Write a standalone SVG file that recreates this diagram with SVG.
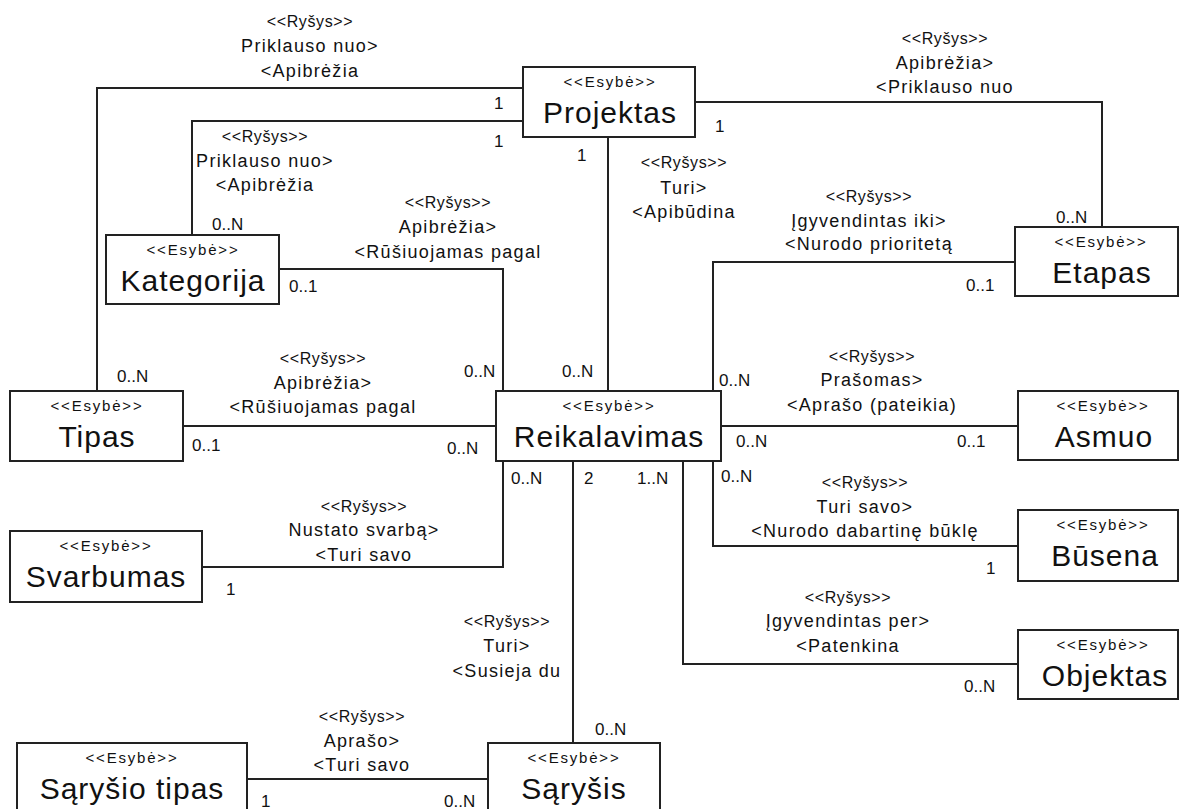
<svg xmlns="http://www.w3.org/2000/svg" width="1180" height="809" viewBox="0 0 1180 809">
  <style>
    text { font-family: "Liberation Sans", Arial, sans-serif; fill: #111; }
    .box { fill: #fff; stroke: #222; stroke-width: 2; }
    .conn { fill: none; stroke: #222; stroke-width: 2; }
    .st { font-size: 15px; letter-spacing: 1.8px; text-anchor: middle; }
    .nm { font-size: 30px; letter-spacing: 1px; text-anchor: middle; }
    .rs { font-size: 16px; letter-spacing: 0.6px; text-anchor: middle; }
    .rl { font-size: 18px; letter-spacing: 1.3px; text-anchor: middle; }
    .m { font-size: 17px; }
  </style>
  <rect width="1180" height="809" fill="#fff"/>

  <!-- associations -->
  <g id="connectors">
    <path class="conn" d="M523,88 H97 V391"/>
    <path class="conn" d="M523,121 H192 V235"/>
    <path class="conn" d="M279,269 H503 V391"/>
    <path class="conn" d="M608,137 V391"/>
    <path class="conn" d="M695,102 H1102 V227"/>
    <path class="conn" d="M713,391 V262 H1015"/>
    <path class="conn" d="M183,426 H496"/>
    <path class="conn" d="M721,426 H1018"/>
    <path class="conn" d="M713,461 V546 H1018"/>
    <path class="conn" d="M683,461 V664 H1018"/>
    <path class="conn" d="M503,461 V567 H202"/>
    <path class="conn" d="M573,461 V743"/>
    <path class="conn" d="M247,779 H488"/>
  </g>

  <!-- association labels -->
  <g id="labels">
    <text class="rs" x="310" y="27">&lt;&lt;Ryšys&gt;&gt;</text>
    <text class="rl" x="310" y="52">Priklauso nuo&gt;</text>
    <text class="rl" x="310" y="77">&lt;Apibrėžia</text>

    <text class="rs" x="265" y="142">&lt;&lt;Ryšys&gt;&gt;</text>
    <text class="rl" x="265" y="167">Priklauso nuo&gt;</text>
    <text class="rl" x="265" y="191">&lt;Apibrėžia</text>

    <text class="rs" x="448" y="208">&lt;&lt;Ryšys&gt;&gt;</text>
    <text class="rl" x="448" y="233">Apibrėžia&gt;</text>
    <text class="rl" x="448" y="258">&lt;Rūšiuojamas pagal</text>

    <text class="rs" x="684" y="168">&lt;&lt;Ryšys&gt;&gt;</text>
    <text class="rl" x="684" y="194">Turi&gt;</text>
    <text class="rl" x="684" y="218">&lt;Apibūdina</text>

    <text class="rs" x="945" y="44">&lt;&lt;Ryšys&gt;&gt;</text>
    <text class="rl" x="945" y="69">Apibrėžia&gt;</text>
    <text class="rl" x="945" y="93">&lt;Priklauso nuo</text>

    <text class="rs" x="869" y="202">&lt;&lt;Ryšys&gt;&gt;</text>
    <text class="rl" x="869" y="227">Įgyvendintas iki&gt;</text>
    <text class="rl" x="869" y="250">&lt;Nurodo prioritetą</text>

    <text class="rs" x="323" y="364">&lt;&lt;Ryšys&gt;&gt;</text>
    <text class="rl" x="323" y="389">Apibrėžia&gt;</text>
    <text class="rl" x="323" y="413">&lt;Rūšiuojamas pagal</text>

    <text class="rs" x="872" y="362">&lt;&lt;Ryšys&gt;&gt;</text>
    <text class="rl" x="872" y="386">Prašomas&gt;</text>
    <text class="rl" x="872" y="411">&lt;Aprašo (pateikia)</text>

    <text class="rs" x="865" y="488">&lt;&lt;Ryšys&gt;&gt;</text>
    <text class="rl" x="865" y="513">Turi savo&gt;</text>
    <text class="rl" x="865" y="537">&lt;Nurodo dabartinę būklę</text>

    <text class="rs" x="848" y="603">&lt;&lt;Ryšys&gt;&gt;</text>
    <text class="rl" x="848" y="627">Įgyvendintas per&gt;</text>
    <text class="rl" x="848" y="652">&lt;Patenkina</text>

    <text class="rs" x="364" y="512">&lt;&lt;Ryšys&gt;&gt;</text>
    <text class="rl" x="364" y="536">Nustato svarbą&gt;</text>
    <text class="rl" x="364" y="561">&lt;Turi savo</text>

    <text class="rs" x="507" y="627">&lt;&lt;Ryšys&gt;&gt;</text>
    <text class="rl" x="507" y="652">Turi&gt;</text>
    <text class="rl" x="507" y="677">&lt;Susieja du</text>

    <text class="rs" x="362" y="722">&lt;&lt;Ryšys&gt;&gt;</text>
    <text class="rl" x="362" y="747">Aprašo&gt;</text>
    <text class="rl" x="362" y="771">&lt;Turi savo</text>
  </g>

  <!-- multiplicities -->
  <g id="multiplicities">
    <text class="m" x="494" y="109">1</text>
    <text class="m" x="494" y="147">1</text>
    <text class="m" x="117" y="382">0..N</text>
    <text class="m" x="212" y="230">0..N</text>
    <text class="m" x="289" y="292">0..1</text>
    <text class="m" x="464" y="377">0..N</text>
    <text class="m" x="577" y="161">1</text>
    <text class="m" x="562" y="377">0..N</text>
    <text class="m" x="715" y="132">1</text>
    <text class="m" x="1056" y="223">0..N</text>
    <text class="m" x="966" y="291">0..1</text>
    <text class="m" x="719" y="386">0..N</text>
    <text class="m" x="192" y="451">0..1</text>
    <text class="m" x="447" y="454">0..N</text>
    <text class="m" x="736" y="447">0..N</text>
    <text class="m" x="957" y="447">0..1</text>
    <text class="m" x="511" y="484">0..N</text>
    <text class="m" x="584" y="484">2</text>
    <text class="m" x="637" y="484">1..N</text>
    <text class="m" x="721" y="482">0..N</text>
    <text class="m" x="986" y="574">1</text>
    <text class="m" x="964" y="692">0..N</text>
    <text class="m" x="226" y="595">1</text>
    <text class="m" x="595" y="735">0..N</text>
    <text class="m" x="261" y="807">1</text>
    <text class="m" x="444" y="807">0..N</text>
  </g>

  <!-- entities -->
  <g id="projektas">
    <rect class="box" x="523" y="67" width="172" height="70"/>
    <text class="st" x="610" y="87">&lt;&lt;Esybė&gt;&gt;</text>
    <text class="nm" x="610" y="123">Projektas</text>
  </g>
  <g id="kategorija">
    <rect class="box" x="106" y="235" width="173" height="69"/>
    <text class="st" x="193" y="255">&lt;&lt;Esybė&gt;&gt;</text>
    <text class="nm" x="193" y="291">Kategorija</text>
  </g>
  <g id="tipas">
    <rect class="box" x="10" y="391" width="173" height="70"/>
    <text class="st" x="97" y="411">&lt;&lt;Esybė&gt;&gt;</text>
    <text class="nm" x="97" y="447">Tipas</text>
  </g>
  <g id="reikalavimas">
    <rect class="box" x="496" y="391" width="225" height="70"/>
    <text class="st" x="609" y="411">&lt;&lt;Esybė&gt;&gt;</text>
    <text class="nm" x="609" y="447">Reikalavimas</text>
  </g>
  <g id="etapas">
    <rect class="box" x="1015" y="227" width="163" height="69"/>
    <text class="st" x="1101" y="247">&lt;&lt;Esybė&gt;&gt;</text>
    <text class="nm" x="1102" y="283">Etapas</text>
  </g>
  <g id="asmuo">
    <rect class="box" x="1018" y="391" width="160" height="69"/>
    <text class="st" x="1103" y="411">&lt;&lt;Esybė&gt;&gt;</text>
    <text class="nm" x="1104" y="447">Asmuo</text>
  </g>
  <g id="busena">
    <rect class="box" x="1018" y="510" width="160" height="71"/>
    <text class="st" x="1103" y="530">&lt;&lt;Esybė&gt;&gt;</text>
    <text class="nm" x="1105" y="566">Būsena</text>
  </g>
  <g id="objektas">
    <rect class="box" x="1018" y="630" width="160" height="69"/>
    <text class="st" x="1103" y="650">&lt;&lt;Esybė&gt;&gt;</text>
    <text class="nm" x="1105" y="686">Objektas</text>
  </g>
  <g id="svarbumas">
    <rect class="box" x="10" y="531" width="192" height="71"/>
    <text class="st" x="106" y="551">&lt;&lt;Esybė&gt;&gt;</text>
    <text class="nm" x="106" y="587">Svarbumas</text>
  </g>
  <g id="sarysio-tipas">
    <rect class="box" x="17" y="743" width="230" height="90"/>
    <text class="st" x="132" y="763">&lt;&lt;Esybė&gt;&gt;</text>
    <text class="nm" x="132" y="799">Sąryšio tipas</text>
  </g>
  <g id="sarysis">
    <rect class="box" x="488" y="743" width="172" height="90"/>
    <text class="st" x="574" y="763">&lt;&lt;Esybė&gt;&gt;</text>
    <text class="nm" x="574" y="799">Sąryšis</text>
  </g>
</svg>
